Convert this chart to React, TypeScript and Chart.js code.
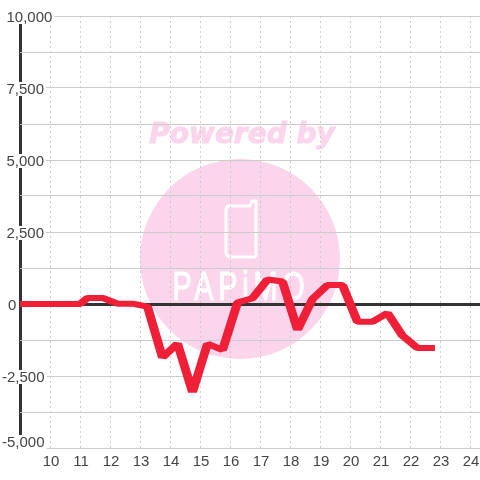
import React, { useEffect, useRef } from "react";
import { Chart, registerables } from "chart.js";

Chart.register(...registerables);

const hours = [8.75, 9.25, 9.75, 10.25, 10.75, 11, 11.25, 11.75, 12.25, 12.75, 13.25, 13.75, 14.25, 14.75, 15.25, 15.75, 16.25, 16.75, 17.25, 17.75, 18.25, 18.75, 19.25, 19.75, 20.25, 20.75, 21.25, 21.75, 22.25, 22.83];
const values = [0, 0, 0, 0, 0, 0, 210, 210, 10, 10, -90, -1860, -1370, -3060, -1380, -1600, 50, 200, 850, 780, -900, 170, 660, 660, -620, -620, -310, -1100, -1530, -1530];
const FONT = '"Liberation Sans", Arial, sans-serif';

const watermark = {
  id: "watermark",
  beforeDraw(chart: any) {
    const c = chart.ctx;
    c.save();
    c.fillStyle = "#fbd5ec";
    c.beginPath();
    c.arc(240, 259, 100, 0, Math.PI * 2);
    c.fill();
    c.font = `italic bold 28px "DejaVu Sans", sans-serif`;
    c.textAlign = "center";
    c.textBaseline = "middle";
    c.strokeStyle = "#fbd5ec";
    c.lineWidth = 1;
    c.strokeText("Powered by", 242, 136);
    c.fillText("Powered by", 242, 136);
    c.strokeStyle = "#fff";
    c.lineWidth = 3;
    c.lineJoin = "round";
    c.beginPath();
    c.moveTo(230, 206);
    c.lineTo(250, 206);
    c.lineTo(252, 201);
    c.lineTo(256, 201);
    c.lineTo(256, 254);
    c.quadraticCurveTo(256, 257, 253, 257);
    c.lineTo(231, 257);
    c.quadraticCurveTo(226, 257, 226, 252);
    c.lineTo(226, 210);
    c.quadraticCurveTo(226, 206, 230, 206);
    c.stroke();
    c.fillStyle = "#fff";
    c.save();
    c.translate(241, 289);
    c.scale(0.8, 1.15);
    c.font = `36px ${FONT}`;
    (c as any).letterSpacing = "6px";
    c.lineWidth = 1;
    c.strokeText("PAPiMO", 0, 0);
    c.fillText("PAPiMO", 0, 0);
    c.restore();
    c.restore();
  },
};

// The reference's stroke is wider horizontally than vertically.
const widePen = {
  id: "widePen",
  beforeDatasetDraw(chart: any) {
    const c = chart.ctx;
    const orig = CanvasRenderingContext2D.prototype.stroke;
    c.stroke = function (...args: any[]) {
      c.save();
      c.scale(1.5, 1);
      orig.apply(c, args as any);
      c.restore();
    };
  },
  afterDatasetDraw(chart: any) {
    delete chart.ctx.stroke;
  },
};

const yLabels = {
  id: "yLabels",
  afterDraw(chart: any) {
    const c = chart.ctx;
    const s = chart.scales.y;
    c.save();
    c.font = `15px ${FONT}`;
    c.textBaseline = "middle";
    c.textAlign = "left";
    s.ticks.forEach((t: any) => {
      if (t.value % 2500 !== 0) return;
      const label = t.value.toLocaleString("en-US");
      let y = s.getPixelForValue(t.value);
      if (t.value === s.min) y -= 7;
      const x = t.value < 0 ? 2 : t.value === 0 ? 8 : 6.5;
      const w = c.measureText(label).width;
      c.fillStyle = "#ffffff";
      c.fillRect(x, y - 6, w + 2, 14);
      c.fillStyle = "#444444";
      c.fillText(label, x, y + 1.5);
    });
    c.restore();
  },
};

export default function App() {
  const ref = useRef<HTMLCanvasElement>(null);
  useEffect(() => {
    const chart = new Chart(ref.current!, {
      type: "line",
      data: {
        datasets: [
          {
            data: hours.map((h, i) => ({ x: h, y: values[i] })),
            borderColor: "#ee1f37",
            borderWidth: 6,
            pointRadius: 0,
            tension: 0,
            borderJoinStyle: "bevel",
            borderCapStyle: "butt",
            segment: {},
          },
        ],
      },
      options: {
        animation: false,
        responsive: false,
        layout: { padding: { left: 0, right: 0, top: 16, bottom: 0 } },
        plugins: { legend: { display: false }, tooltip: { enabled: false } },
        scales: {
          x: {
            type: "linear",
            min: 9,
            max: 24 + 1 / 3,
            afterFit: (s: any) => {
              s.height = 32;
              s.paddingLeft = 0;
              s.paddingRight = 0;
            },
            afterBuildTicks: (s: any) => {
              s.ticks = Array.from({ length: 16 }, (_, i) => ({ value: 9 + i }));
            },
            border: {
              display: false,
              dash: (ctx: any) => (ctx.tick?.value === 9 ? [] : [2, 3]),
            },
            grid: {
              color: (ctx: any) => (ctx.tick?.value === 9 ? "#333333" : "#cccccc"),
              lineWidth: (ctx: any) => (ctx.tick?.value === 9 ? 3 : 1),
              drawTicks: false,
            },
            ticks: {
              autoSkip: false,
              maxRotation: 0,
              padding: 5,
              labelOffset: 1,
              color: "#444444",
              font: { family: FONT, size: 15 },
              callback: (v: any) => (v === 9 ? "" : String(v)),
            },
          },
          y: {
            type: "linear",
            min: -5000,
            max: 10000,
            afterFit: (s: any) => {
              s.width = 20;
              s.paddingTop = 0;
              s.paddingBottom = 0;
            },
            ticks: { display: false, stepSize: 1250 },
            border: { display: false },
            grid: {
              color: (ctx: any) => (ctx.tick?.value === 0 ? "#333333" : "#cccccc"),
              lineWidth: (ctx: any) => (ctx.tick?.value === 0 ? 3 : 1),
              drawTicks: false,
            },
          },
        },
      } as any,
      plugins: [watermark, widePen, yLabels],
    } as any);
    return () => chart.destroy();
  }, []);
  return (
    <canvas
      ref={ref}
      width={480}
      height={480}
      style={{ position: "fixed", left: 0, top: 0, width: 480, height: 480, background: "#fff" }}
    />
  );
}
